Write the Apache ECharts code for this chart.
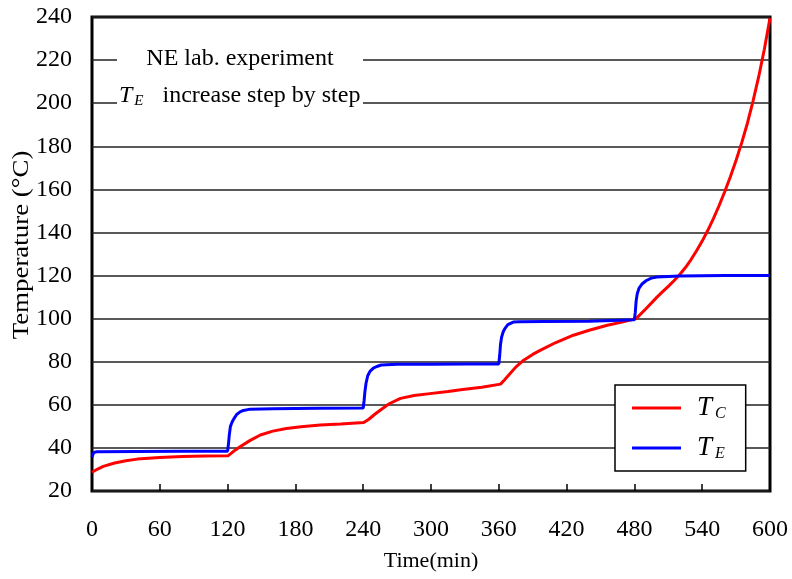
<!DOCTYPE html>
<html>
<head>
<meta charset="utf-8">
<script src="https://cdn.jsdelivr.net/npm/echarts@6/dist/echarts.min.js"></script>
<style>html,body{margin:0;padding:0;background:#fff}#c{width:792px;height:579px}</style>
</head>
<body>
<div id="c"></div>
<script>
// ---- data ----
const xTicks = [0, 60, 120, 180, 240, 300, 360, 420, 480, 540, 600];
const yTicks = [20, 40, 60, 80, 100, 120, 140, 160, 180, 200, 220, 240];

const tcTime = [0,5,10,20,30,40,60,80,100,120.6,125,131,140,149,160,172,185,202,220,240.5,245,250,255,263,273,285,299,315,328,345,361.5,365,370,375,382,390,397,410,426,440,456,470,481.5,490,500,505,510,515,520,525,530,535,540,545,550,555,560,565,570,575,580,585,590,595,600];
const tcValue = [28.7,30.2,31.4,33,34,34.8,35.6,36,36.2,36.4,38.3,40.5,43.5,46,47.8,49,49.8,50.6,51.1,51.8,53.3,55.5,57.5,60.5,63,64.3,65.2,66.2,67.1,68.2,69.6,71.5,74.5,77.5,80.7,83.4,85.4,88.8,92.3,94.6,96.9,98.5,100,104.5,110,112.5,115,117.6,120.4,123.6,127.3,131.5,136,141,146.5,152.5,159,166,173.5,181.7,190.7,201,212.3,225,239.5];

const teTime = [0,1.5,4,40,80,100,120,120.8,121.5,122.5,124,125.5,128,131,134,140,160,200,240,240.8,241.5,242.5,244,246,249,252,256,270,300,330,360,360.8,361.5,362.5,364,365.5,368,372.8,378,400,440,480,480.8,481.5,482.5,484,487,490.6,495,500,520,560,600];
const teValue = [35.8,37.8,38.2,38.3,38.4,38.4,38.5,42,46,50,52,53.5,55.5,56.7,57.4,58,58.2,58.4,58.5,62,66,70,73.5,75.5,77,77.8,78.5,78.8,78.8,78.9,79,83,88,91.5,94,95.5,97.2,98.4,98.6,98.7,98.8,99.5,103,108,111.5,114,116.2,117.7,118.8,119.3,119.8,120,120];

const seriesNames = ['TC', 'TE'];
const seriesSub = { TC: 'C', TE: 'E' };
const colors = ['#ff0000', '#0000ff'];

const zip = (a, b) => a.map((t, i) => [t, b[i]]);
const FONT = 'Liberation Serif';

const chart = echarts.init(document.getElementById('c'));
chart.setOption({
  animation: false,
  backgroundColor: '#fff',
  grid: { left: 92, right: 22, top: 17, bottom: 88, outerBoundsMode: 'none', containLabel: false, show: true, borderColor: '#000', borderWidth: 3, backgroundColor: 'transparent' },
  xAxis: {
    type: 'value', min: xTicks[0], max: xTicks[xTicks.length - 1], interval: 60,
    name: 'Time(min)', nameLocation: 'middle', nameGap: 59,
    nameTextStyle: { fontFamily: FONT, fontSize: 22, color: '#000' },
    axisLine: { show: false },
    axisTick: { show: true, inside: true, length: 7, lineStyle: { color: '#000', width: 1.5 } },
    axisLabel: { fontFamily: FONT, fontSize: 24, color: '#000', margin: 27 },
    splitLine: { show: false }
  },
  yAxis: {
    type: 'value', min: yTicks[0], max: yTicks[yTicks.length - 1], interval: 20,
    axisLine: { show: false },
    axisTick: { show: false },
    axisLabel: { fontFamily: FONT, fontSize: 24, color: '#000', margin: 20 },
    splitLine: { show: true, lineStyle: { color: '#222', width: 1.5 } }
  },
  legend: {
    orient: 'vertical', left: 615, top: 385,
    backgroundColor: '#fff', borderColor: '#000', borderWidth: 1.5,
    padding: [9, 20, 9, 17],
    itemWidth: 49, itemHeight: 3, itemGap: 12, icon: 'rect',
    data: seriesNames,
    formatter: n => '{t|T}{s|' + seriesSub[n] + '}',
    textStyle: {
      padding: [0, 0, 0, 11],
      rich: {
        t: { fontFamily: FONT, fontStyle: 'italic', fontSize: 27, color: '#000', lineHeight: 25 },
        s: { fontFamily: FONT, fontStyle: 'italic', fontSize: 16, color: '#000', lineHeight: 25, padding: [12, 0, 0, 3] }
      }
    }
  },
  graphic: [
    { type: 'text', x: 22, y: 245, rotation: Math.PI / 2, scaleX: 1.12, z: 6, style: { text: 'Temperature (°C)', font: '24px "Liberation Serif"', fill: '#000', align: 'center', verticalAlign: 'middle' } },
    { type: 'rect', left: 117, top: 30, shape: { width: 246, height: 88 }, style: { fill: '#fff' }, z: 5 },
    { type: 'text', x: 240, y: 59, z: 6, style: { text: 'NE lab. experiment', font: '24px "Liberation Serif"', fill: '#000', align: 'center', verticalAlign: 'middle' } },
    { type: 'text', x: 119, y: 96, z: 6, style: {
        text: '{t|T}{s|E}{n|  increase step by step}', verticalAlign: 'middle', align: 'left',
        rich: {
          t: { fontFamily: FONT, fontStyle: 'italic', fontSize: 24, fill: '#000' },
          s: { fontFamily: FONT, fontStyle: 'italic', fontSize: 15, fill: '#000', padding: [10, 0, 0, 2] },
          n: { fontFamily: FONT, fontSize: 24, fill: '#000', padding: [0, 0, 0, 7] }
        } } }
  ],
  series: [
    { name: 'TC', type: 'line', data: zip(tcTime, tcValue), showSymbol: false, smooth: false, lineStyle: { color: colors[0], width: 3 }, itemStyle: { color: colors[0] }, z: 3 },
    { name: 'TE', type: 'line', data: zip(teTime, teValue), showSymbol: false, smooth: false, lineStyle: { color: colors[1], width: 3 }, itemStyle: { color: colors[1] }, z: 3 }
  ]
});
</script>
</body>
</html>
